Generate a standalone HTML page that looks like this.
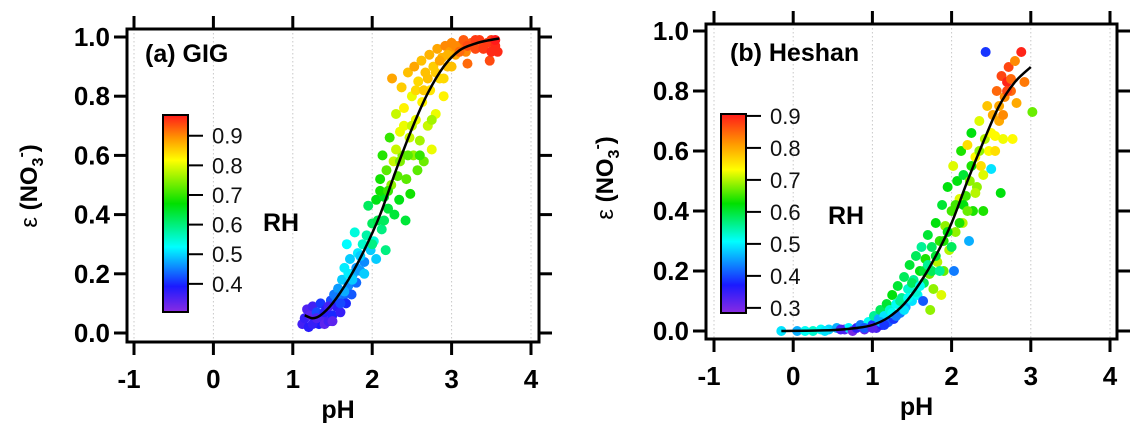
<!DOCTYPE html>
<html><head><meta charset="utf-8"><style>
html,body{margin:0;padding:0;background:#fff;}
svg{display:block;font-family:"Liberation Sans",Arial,sans-serif;}
</style></head><body>
<svg id="chart" width="1135" height="433" viewBox="0 0 1135 433" xmlns="http://www.w3.org/2000/svg">
<defs>
<linearGradient id="gA" x1="0" y1="1" x2="0" y2="0">
<stop offset="0" stop-color="#8a2be2"/><stop offset="0.13" stop-color="#1a1aff"/><stop offset="0.33" stop-color="#00ffff"/><stop offset="0.55" stop-color="#00e000"/><stop offset="0.77" stop-color="#ffff00"/><stop offset="0.88" stop-color="#ff9900"/><stop offset="1" stop-color="#ff1a1a"/>
</linearGradient>
<linearGradient id="gB" x1="0" y1="1" x2="0" y2="0">
<stop offset="0" stop-color="#8a2be2"/><stop offset="0.14" stop-color="#1a1aff"/><stop offset="0.36" stop-color="#00ffff"/><stop offset="0.55" stop-color="#00e000"/><stop offset="0.72" stop-color="#ffff00"/><stop offset="0.85" stop-color="#ff9900"/><stop offset="1" stop-color="#ff1a1a"/>
</linearGradient>
</defs>
</svg>
<script>
// Panel A (GIG) data: pH, epsilon, RH
const phA=[1.12,1.15,1.18,1.2,1.22,1.25,1.28,1.3,1.33,1.35,1.38,1.4,1.42,1.45,1.48,1.5,1.52,1.55,1.57,1.6,1.62,1.63,1.65,1.67,1.68,1.7,1.72,1.74,1.76,1.78,1.8,1.82,1.85,1.88,1.9,1.93,1.95,1.98,2.0,2.02,2.05,2.07,2.1,2.12,2.13,2.15,2.17,2.18,2.2,2.22,2.24,2.25,2.27,2.28,2.3,2.32,2.34,2.35,2.37,2.38,2.4,2.42,2.43,2.45,2.47,2.48,2.5,2.52,2.53,2.55,2.57,2.58,2.6,2.62,2.63,2.65,2.67,2.7,2.72,2.73,2.75,2.77,2.8,2.82,2.85,2.88,2.9,2.92,2.95,2.98,3.0,3.05,3.1,3.15,3.18,3.2,3.25,3.3,3.35,3.4,3.45,3.48,3.5,3.55,3.58,
1.25,1.3,1.4,1.45,1.5,1.55,1.6,1.65,1.7,1.75,1.8,1.85,1.9,2.0,2.05,2.1,2.15,2.2,2.3,2.35,2.4,2.45,2.5,2.55,2.6,2.65,2.7,2.75,2.8,2.85,2.9,2.95,3.0,3.05,3.1,3.2,3.3,3.4,3.5,3.55];
const epsA=[0.03,0.05,0.08,0.02,0.06,0.09,0.04,0.07,0.03,0.1,0.05,0.03,0.08,0.04,0.11,0.06,0.13,0.09,0.15,0.07,0.18,0.12,0.22,0.1,0.3,0.16,0.25,0.13,0.2,0.34,0.17,0.27,0.21,0.3,0.24,0.33,0.43,0.28,0.37,0.31,0.45,0.38,0.52,0.35,0.6,0.46,0.28,0.55,0.42,0.66,0.5,0.86,0.58,0.4,0.74,0.53,0.45,0.68,0.83,0.6,0.76,0.38,0.52,0.88,0.66,0.47,0.8,0.6,0.9,0.72,0.55,0.85,0.65,0.92,0.78,0.58,0.88,0.7,0.94,0.82,0.62,0.9,0.74,0.96,0.86,0.93,0.8,0.97,0.9,0.95,0.98,0.94,0.97,0.99,0.95,0.91,0.98,0.96,0.99,0.97,0.98,0.92,0.99,0.97,0.95,
0.03,0.05,0.07,0.09,0.04,0.12,0.1,0.14,0.2,0.18,0.22,0.26,0.2,0.3,0.25,0.48,0.38,0.48,0.62,0.58,0.7,0.6,0.7,0.82,0.6,0.82,0.86,0.72,0.88,0.92,0.86,0.94,0.9,0.97,0.95,0.97,0.99,0.96,0.95,0.99];
const rhA=[.36,.37,.35,.38,.34,.36,.40,.42,.39,.41,.35,.34,.38,.36,.42,.40,.45,.38,.47,.37,.50,.44,.52,.40,.53,.46,.50,.43,.48,.55,.44,.52,.47,.56,.46,.58,.62,.50,.62,.55,.66,.63,.68,.60,.69,.65,.60,.72,.64,.70,.75,.88,.78,.64,.78,.72,.66,.80,.85,.74,.82,.64,.72,.86,.78,.68,.80,.75,.88,.80,.72,.84,.76,.86,.82,.73,.86,.78,.87,.83,.80,.85,.80,.88,.84,.87,.82,.90,.86,.89,.90,.88,.92,.93,.90,.92,.93,.94,.95,.94,.95,.94,.95,.96,.96,
.37,.35,.38,.36,.34,.45,.42,.48,.52,.5,.47,.5,.5,.6,.5,.68,.62,.7,.78,.74,.8,.72,.78,.84,.7,.85,.86,.76,.85,.88,.84,.87,.86,.9,.92,.94,.95,.95,.96,.97];
const fitPhA=[1.15,1.25,1.35,1.5,1.7,1.9,2.1,2.3,2.5,2.7,2.9,3.1,3.3,3.45,3.6];
const fitEpsA=[0.06,0.05,0.06,0.1,0.18,0.28,0.4,0.55,0.69,0.81,0.9,0.955,0.978,0.988,0.995];
// Panel B (Heshan)
const phB=[-0.15,0.05,0.25,0.35,0.45,0.55,0.65,0.7,0.75,0.8,0.85,0.9,0.95,1.0,1.02,1.05,1.08,1.1,1.12,1.15,1.18,1.2,1.22,1.25,1.27,1.3,1.32,1.35,1.37,1.4,1.42,1.45,1.47,1.5,1.52,1.55,1.57,1.6,1.62,1.64,1.65,1.67,1.7,1.72,1.73,1.75,1.77,1.8,1.82,1.85,1.87,1.88,1.9,1.92,1.95,1.97,2.0,2.02,2.03,2.05,2.07,2.1,2.12,2.14,2.15,2.18,2.2,2.22,2.23,2.25,2.27,2.3,2.32,2.35,2.37,2.4,2.42,2.43,2.45,2.47,2.5,2.52,2.55,2.57,2.6,2.62,2.63,2.65,2.67,2.7,2.72,2.75,2.77,2.8,2.82,2.88,2.92,3.02,
0.15,0.4,0.6,0.9,1.0,1.1,1.15,1.25,1.3,1.35,1.4,1.45,1.5,1.55,1.6,1.65,1.7,1.75,1.8,1.85,1.9,1.95,2.0,2.05,2.1,2.15,2.2,2.25,2.3,2.35,2.4,2.5,2.55,2.6,2.65,2.7,2.75];
const epsB=[0.0,0.0,0.0,0.005,0.005,0.01,0.005,0.01,0.0,0.01,0.02,0.005,0.03,0.02,0.05,0.01,0.04,0.07,0.02,0.05,0.09,0.03,0.07,0.12,0.04,0.09,0.15,0.06,0.11,0.18,0.08,0.14,0.22,0.1,0.17,0.25,0.12,0.2,0.28,0.1,0.16,0.24,0.32,0.19,0.07,0.28,0.14,0.36,0.23,0.3,0.12,0.42,0.2,0.35,0.48,0.27,0.4,0.55,0.2,0.33,0.5,0.44,0.6,0.36,0.52,0.45,0.62,0.3,0.5,0.66,0.4,0.58,0.48,0.7,0.55,0.4,0.64,0.93,0.75,0.6,0.54,0.72,0.65,0.8,0.7,0.46,0.85,0.64,0.78,0.83,0.88,0.8,0.64,0.9,0.76,0.93,0.83,0.73,
0.0,0.0,0.005,0.01,0.01,0.03,0.02,0.06,0.05,0.1,0.07,0.11,0.16,0.13,0.15,0.2,0.22,0.2,0.25,0.2,0.3,0.33,0.28,0.42,0.36,0.42,0.4,0.55,0.46,0.6,0.52,0.66,0.6,0.75,0.72,0.8,0.84];
const rhB=[.48,.45,.52,.5,.47,.45,.32,.49,.30,.35,.42,.31,.5,.38,.55,.33,.45,.58,.36,.48,.6,.4,.52,.62,.38,.5,.6,.42,.55,.58,.45,.52,.6,.48,.55,.58,.5,.62,.55,.4,.58,.64,.6,.68,.7,.58,.7,.62,.72,.65,.74,.6,.68,.7,.62,.72,.66,.74,.42,.7,.62,.74,.64,.72,.6,.66,.78,.45,.7,.62,.64,.76,.7,.74,.78,.64,.72,.38,.8,.76,.48,.82,.76,.86,.82,.62,.88,.75,.84,.9,.88,.86,.76,.84,.82,.9,.85,.68,
.5,.48,.33,.4,.32,.45,.38,.5,.42,.55,.48,.5,.58,.52,.5,.6,.55,.58,.6,.55,.64,.62,.58,.66,.64,.62,.68,.64,.72,.7,.74,.76,.78,.82,.84,.88,.86];
const fitPhB=[-0.15,0.5,0.8,1.0,1.2,1.4,1.6,1.8,2.0,2.2,2.4,2.6,2.8,3.0];
const fitEpsB=[0,0.003,0.01,0.02,0.045,0.09,0.16,0.25,0.36,0.5,0.63,0.75,0.83,0.88];
const xTicks=[-1,0,1,2,3,4];
const yTicks=[0,0.2,0.4,0.6,0.8,1.0];
const cbTicksA=[0.4,0.5,0.6,0.7,0.8,0.9];
const cbTicksB=[0.3,0.4,0.5,0.6,0.7,0.8,0.9];

const NS='http://www.w3.org/2000/svg';
const svg=document.getElementById('chart');
function mk(tag,attrs,parent){const e=document.createElementNS(NS,tag);for(const k in attrs)e.setAttribute(k,attrs[k]);(parent||svg).appendChild(e);return e;}

function rainbow(t){
  const st=[[0,[138,43,226]],[0.13,[26,26,255]],[0.34,[0,255,255]],[0.55,[0,224,0]],[0.76,[255,255,0]],[0.88,[255,153,0]],[1,[255,26,26]]];
  t=Math.max(0,Math.min(1,t));
  for(let i=1;i<st.length;i++){if(t<=st[i][0]){const a=st[i-1],b=st[i];const f=(t-a[0])/(b[0]-a[0]);const c=a[1].map((v,j)=>Math.round(v+(b[1][j]-v)*f));return 'rgb('+c.join(',')+')';}}
  return 'rgb(255,26,26)';
}

function panel(cfg){
  const g=mk('g',{});
  
  
  const X=v=>cfg.x0+(v+1)*cfg.xs;
  const Y=v=>cfg.y0-v*cfg.ys;
  xTicks.forEach(t=>{const l=mk('line',{x1:X(t),x2:X(t),y1:cfg.top,y2:cfg.bot,stroke:'#c8c8c8','stroke-width':1,'stroke-dasharray':'1.5,2.5'},g);
    
    });
  const cb=mk('rect',{x:cfg.cbx,y:cfg.cbTop,width:cfg.cbw,height:cfg.cbBot-cfg.cbTop,fill:cfg.grad,stroke:'#000','stroke-width':2},g);
  
  
  const CB=v=>cfg.cbBot-(v-cfg.cbMin)/(cfg.cbMax-cfg.cbMin)*(cfg.cbBot-cfg.cbTop);
  cfg.cbTicks.forEach(t=>{
    const l=mk('line',{x1:cfg.cbx+cfg.cbw,x2:cfg.cbx+cfg.cbw+15,y1:CB(t),y2:CB(t),stroke:'#000','stroke-width':2},g);
    
    
    const tx=mk('text',{x:cfg.cbx+cfg.cbw+24,y:CB(t)+8,'font-size':22,fill:'#111'},g);tx.textContent=t.toFixed(1);
    
    
  });
  const rh=mk('text',{x:cfg.rhx,y:cfg.rhy+9,'font-size':25,'font-weight':'bold'},g);rh.textContent='RH';
  
  
  cfg.ph.forEach((p,i)=>{
    const c=mk('circle',{cx:X(p),cy:Y(cfg.eps[i]),r:5,fill:rainbow((cfg.rh[i]-cfg.cbMin)/(cfg.cbMax-cfg.cbMin))},g);
    
    
  });
  const px=cfg.fph.map(X),py=cfg.feps.map(Y);
  let d='M'+px[0]+','+py[0];
  for(let i=0;i<px.length-1;i++){
    const p0=[px[Math.max(0,i-1)],py[Math.max(0,i-1)]],p1=[px[i],py[i]],p2=[px[i+1],py[i+1]],p3=[px[Math.min(px.length-1,i+2)],py[Math.min(px.length-1,i+2)]];
    const c1=[p1[0]+(p2[0]-p0[0])/6,p1[1]+(p2[1]-p0[1])/6],c2=[p2[0]-(p3[0]-p1[0])/6,p2[1]-(p3[1]-p1[1])/6];
    d+=' C'+c1.join(',')+' '+c2.join(',')+' '+p2.join(',');
  }
  const fit=mk('path',{d:d,fill:'none',stroke:'#000','stroke-width':2.5},g);
  
  
  const fr=mk('rect',{x:cfg.left,y:cfg.top,width:cfg.right-cfg.left,height:cfg.bot-cfg.top,fill:'none',stroke:'#000','stroke-width':3},g);
  
  
  xTicks.forEach(t=>{
    const a=mk('line',{x1:X(t),x2:X(t),y1:cfg.bot,y2:cfg.bot+13,stroke:'#000','stroke-width':3},g);
    
    
    const b=mk('line',{x1:X(t),x2:X(t),y1:cfg.top,y2:cfg.top-13,stroke:'#000','stroke-width':3},g);
    
    
    const tx=mk('text',{x:X(t)-(t<0?5:0),y:cfg.bot+46,'font-size':26,'font-weight':'bold','text-anchor':'middle'},g);tx.textContent=String(t);
    
    
  });
  yTicks.forEach(t=>{
    const a=mk('line',{x1:cfg.left,x2:cfg.left-13,y1:Y(t),y2:Y(t),stroke:'#000','stroke-width':3},g);
    
    
    const b=mk('line',{x1:cfg.right,x2:cfg.right+13,y1:Y(t),y2:Y(t),stroke:'#000','stroke-width':3},g);
    
    
    const tx=mk('text',{x:cfg.left-17,y:Y(t)+9,'font-size':26,'font-weight':'bold','text-anchor':'end'},g);tx.textContent=t.toFixed(1);
    
    
  });
  const xl=mk('text',{x:(cfg.left+cfg.right)/2+5,y:cfg.bot+76,'font-size':25,'font-weight':'bold','text-anchor':'middle'},g);xl.textContent='pH';
  
  
  const yl=mk('text',{transform:'translate('+cfg.ylx+','+cfg.yly+') rotate(-90)','font-size':24,'font-weight':'bold','text-anchor':'middle'},g);
  yl.innerHTML='<tspan font-weight="normal">ε</tspan> (NO<tspan font-size="16" dy="6">3</tspan><tspan font-size="16" dy="-17">-</tspan><tspan dy="11">)</tspan>';
  
  
  const ti=mk('text',{x:cfg.tix,y:cfg.tiy+9,'font-size':25,'font-weight':'bold'},g);ti.textContent=cfg.title;
  
  
}

panel({name:'panel-gig',title:'(a) GIG',x0:134,xs:79.4,y0:333,ys:296,left:127,right:539,top:29,bot:342,
  cbx:163,cbw:25,cbTop:115,cbBot:312,cbMin:0.305,cbMax:0.97,cbTicks:cbTicksA,grad:'url(#gA)',rhx:263,rhy:222,
  ph:phA,eps:epsA,rh:rhA,fph:fitPhA,feps:fitEpsA,ylx:37,yly:186,tix:145,tiy:53});
panel({name:'panel-heshan',title:'(b) Heshan',x0:714,xs:79.2,y0:331,ys:300,left:706,right:1117,top:24,bot:339,
  cbx:721,cbw:25,cbTop:114,cbBot:313,cbMin:0.284,cbMax:0.906,cbTicks:cbTicksB,grad:'url(#gB)',rhx:828,rhy:215,
  ph:phB,eps:epsB,rh:rhB,fph:fitPhB,feps:fitEpsB,ylx:613,yly:178,tix:730,tiy:52});
</script>
</body></html>
